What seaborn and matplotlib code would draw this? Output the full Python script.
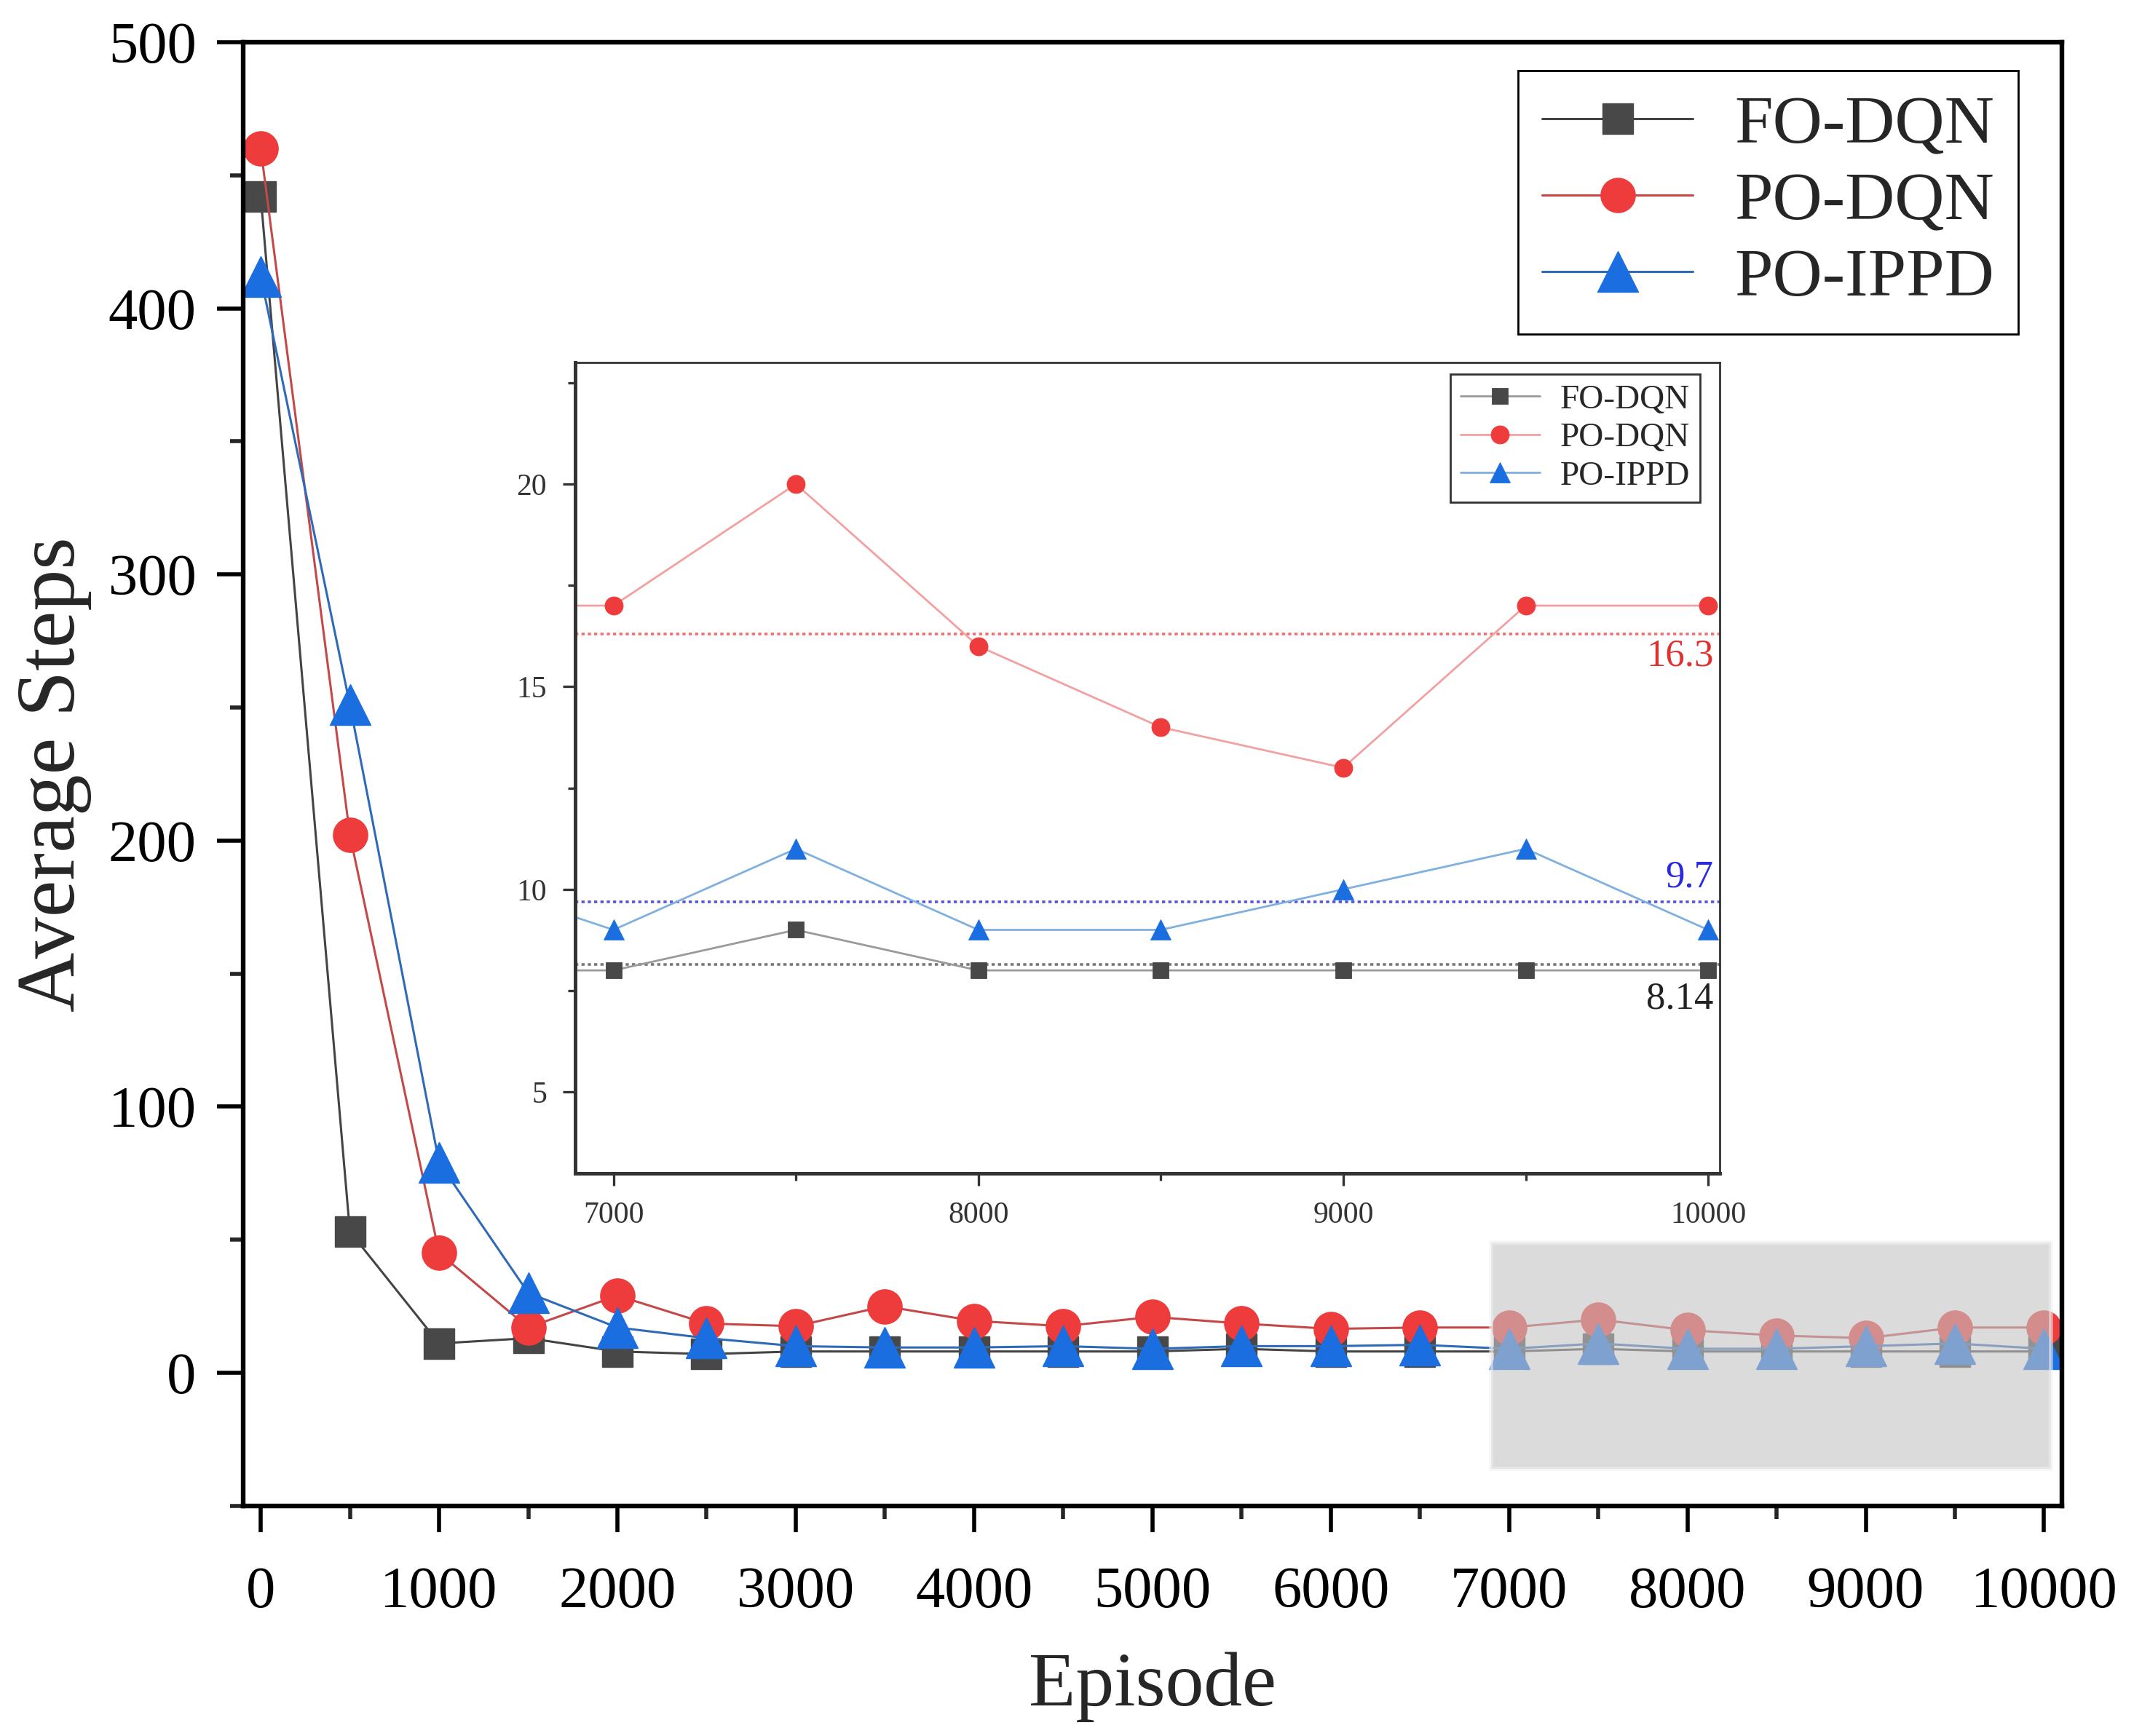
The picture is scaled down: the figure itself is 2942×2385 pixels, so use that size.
import numpy as np
import pandas as pd
import matplotlib
matplotlib.use("Agg")
import matplotlib.pyplot as plt
from matplotlib.ticker import MultipleLocator, FixedLocator
from matplotlib.patches import Rectangle
import seaborn as sns

# ---------------- data ----------------
episodes = [0, 500, 1000, 1500, 2000, 2500, 3000, 3500, 4000, 4500, 5000,
            5500, 6000, 6500, 7000, 7500, 8000, 8500, 9000, 9500, 10000]
fo_dqn = [442, 53, 11, 13, 8, 7, 8, 8, 8, 8, 8, 9, 8, 8, 8, 9, 8, 8, 8, 8, 8]
po_dqn = [460, 202, 45, 17, 29, 18.5, 17.5, 25, 19.5, 17.5, 21, 18.5, 16.5, 17,
          17, 20, 16, 14, 13, 17, 17]
po_ippd = [412, 251, 79, 30, 17, 13, 10, 9.5, 9.5, 10, 9, 10, 10, 10.5,
           9, 11, 9, 9, 10, 11, 9]
series_names = ["FO-DQN", "PO-DQN", "PO-IPPD"]
mean_values = [8.14, 16.3, 9.7]
mean_labels = ["8.14", "16.3", "9.7"]
main_xticks = [0, 1000, 2000, 3000, 4000, 5000, 6000, 7000, 8000, 9000, 10000]
main_yticks = [0, 100, 200, 300, 400, 500]
inset_xticks = [7000, 8000, 9000, 10000]
inset_yticks = [5, 10, 15, 20]

# ---------------- style ----------------
sns.set_theme(style="ticks")
plt.rcParams["font.family"] = ["Liberation Serif", "DejaVu Serif"]
plt.rcParams["axes.unicode_minus"] = False

fig = plt.figure(figsize=(14.71, 11.925), dpi=200)
ax = fig.add_axes([0.1134, 0.1326, 0.8492, 0.8431])

main_line_colors = ["#444444", "#c44848", "#2f6ab8"]
marker_colors = ["#484848", "#ee3b3b", "#1a6ee0"]
markers = ["s", "o", "^"]
main_msizes = [15, 17, 20]
values = [fo_dqn, po_dqn, po_ippd]

for name, vals, lc, mc, mk, ms in zip(series_names, values, main_line_colors,
                                      marker_colors, markers, main_msizes):
    sns.lineplot(x=episodes, y=vals, ax=ax, color=lc, linewidth=1.1,
                 marker=mk, markersize=ms, markerfacecolor=mc,
                 markeredgecolor=mc, markeredgewidth=0.5, label=name)

ax.set_xlim(-100, 10100)
ax.set_ylim(-50, 500)
ax.xaxis.set_major_locator(FixedLocator(main_xticks))
ax.xaxis.set_minor_locator(MultipleLocator(500))
ax.yaxis.set_major_locator(FixedLocator(main_yticks))
ax.yaxis.set_minor_locator(MultipleLocator(50))
ax.set_xticklabels([str(t) for t in main_xticks])
ax.set_yticklabels([str(t) for t in main_yticks])
ax.tick_params(axis="both", which="major", direction="out", length=13,
               width=2, labelsize=29, colors="black")
ax.tick_params(axis="x", which="major", pad=17)
ax.tick_params(axis="y", which="major", pad=10)
ax.tick_params(axis="both", which="minor", direction="out", length=6.5, width=2)
for sp in ax.spines.values():
    sp.set_visible(True)
    sp.set_color("black")
    sp.set_linewidth(2.3)

ax.set_xlabel("Episode", fontsize=38, labelpad=16)
ax.set_ylabel("Average Steps", fontsize=41, labelpad=8)

# highlight region
ax.add_patch(Rectangle((6900, -36), 3140, 85, facecolor="#c4c4c4", alpha=0.6,
                       edgecolor="#f0f0f0", linewidth=2, zorder=5))

leg = ax.legend(loc="upper right", bbox_to_anchor=(0.976, 0.9806),
                borderaxespad=0, fontsize=34, frameon=True, fancybox=False,
                handlelength=2.2, handletextpad=0.6, labelspacing=0.2,
                borderpad=0.35)
leg.get_frame().set_edgecolor("black")
leg.get_frame().set_linewidth(1.0)
leg.get_frame().set_alpha(1)

# ---------------- inset ----------------
axins = fig.add_axes([0.2685, 0.3243, 0.5344, 0.4669])
axins.set_facecolor("white")
inset_line_colors = ["#9a9a9a", "#f2a0a0", "#7fb0e0"]
inset_msizes = [8, 9, 10]
for name, vals, lc, mc, mk, ms in zip(series_names, values, inset_line_colors,
                                      marker_colors, markers, inset_msizes):
    sns.lineplot(x=episodes, y=vals, ax=axins, color=lc, linewidth=1.0,
                 marker=mk, markersize=ms, markerfacecolor=mc,
                 markeredgecolor=mc, markeredgewidth=0.3, label=name)

mean_line_colors = ["#777777", "#f07070", "#5555dd"]
mean_text_colors = ["#222222", "#e03030", "#2a2ae0"]
mean_text_y = [7.3, 15.76, 10.3]
for mv, lab, lcol, tcol, ty in zip(mean_values, mean_labels, mean_line_colors,
                                   mean_text_colors, mean_text_y):
    axins.axhline(mv, color=lcol, linestyle=(0, (1.2, 1.2)), linewidth=1.3,
                  zorder=1)
    axins.text(10015, ty, lab, color=tcol, fontsize=19, ha="right",
               va="center")

axins.set_xlim(6895, 10032)
axins.set_ylim(3, 23)
axins.xaxis.set_major_locator(FixedLocator(inset_xticks))
axins.xaxis.set_minor_locator(MultipleLocator(500))
axins.yaxis.set_major_locator(FixedLocator(inset_yticks))
axins.yaxis.set_minor_locator(MultipleLocator(2.5))
axins.set_xticklabels([str(t) for t in inset_xticks])
axins.set_yticklabels([str(t) for t in inset_yticks])
axins.tick_params(axis="both", which="major", direction="out", length=6,
                  width=1.2, labelsize=15, colors="#333333", pad=8)
axins.tick_params(axis="both", which="minor", direction="out", length=3.5,
                  width=1.2, colors="#333333")
for key, sp in axins.spines.items():
    sp.set_visible(True)
    sp.set_color("#333333")
    sp.set_linewidth(1.8 if key in ("left", "bottom") else 1.0)
axins.set_xlabel("")
axins.set_ylabel("")

leg2 = axins.legend(loc="upper right", bbox_to_anchor=(0.983, 0.986),
                    borderaxespad=0, fontsize=17, frameon=True, fancybox=False,
                    handlelength=2.3, handletextpad=0.6, labelspacing=0.2,
                    borderpad=0.3)
leg2.get_frame().set_edgecolor("#333333")
leg2.get_frame().set_linewidth(1.0)
leg2.get_frame().set_alpha(1)

fig.savefig("out.png", dpi=200)
